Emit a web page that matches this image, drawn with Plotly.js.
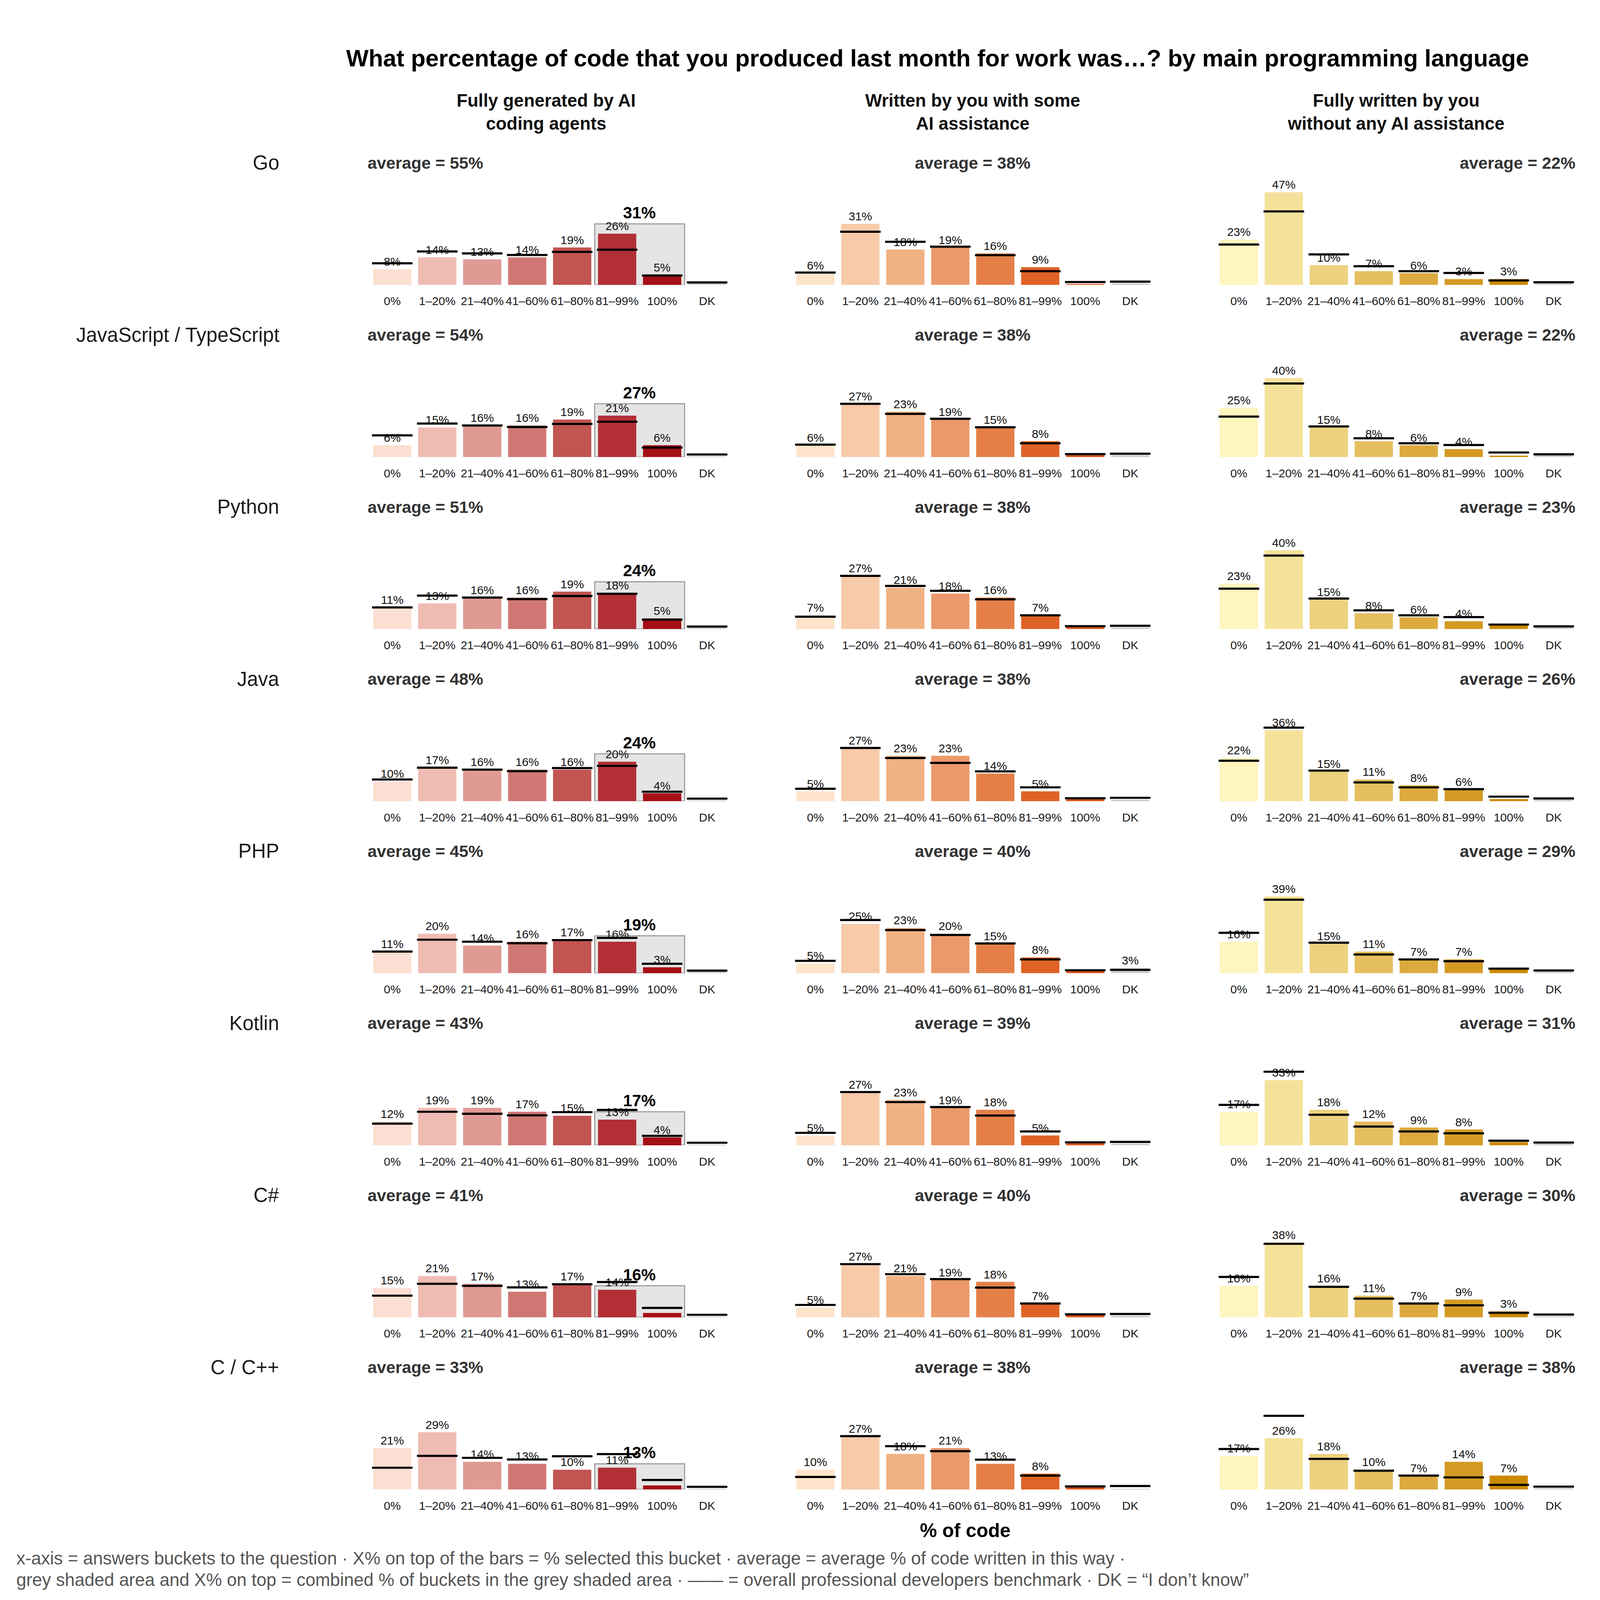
<!DOCTYPE html>
<html>
<head>
<meta charset="utf-8">
<script src="https://cdn.plot.ly/plotly-3.0.1.min.js"></script>
<style>
  html, body { margin: 0; padding: 0; background: #fff; overflow: hidden; }
</style>
</head>
<body>
<div id="chart"></div>
<script>
// answer buckets on every x axis
const categories = ['0%', '1–20%', '21–40%', '41–60%', '61–80%', '81–99%', '100%', 'DK'];
// rows, top to bottom
const languages = ['Go', 'JavaScript / TypeScript', 'Python', 'Java', 'PHP', 'Kotlin', 'C#', 'C / C++'];
const panelTitles = [
  'Fully generated by AI<br>coding agents',
  'Written by you with some<br>AI assistance',
  'Fully written by you<br>without any AI assistance'
];

// % of respondents per bucket, one list per language (column 1)
const agentShares = [
  [8, 14, 13, 14, 19, 26, 5, 0.8],
  [6, 15, 16, 16, 19, 21, 6, 0.4],
  [11, 13, 16, 16, 19, 18.4, 5.4, 0.6],
  [10, 17, 16, 16, 16, 20, 4, 0.4],
  [11, 20, 14, 16, 17, 16, 3, 2],
  [12, 19, 19, 17, 15, 13, 4, 0.4],
  [15, 21, 17, 13, 17, 14, 2.2, 0.4],
  [21, 29, 14, 13, 10, 11, 2, 0.4]
];
// column 2
const assistShares = [
  [6, 31, 18, 19, 16, 9, 0.5, 0.8],
  [6, 27, 23, 19, 15, 8, 1.3, 0.9],
  [7, 27, 21, 18, 16, 7, 1.5, 0.8],
  [5, 27, 23, 23, 14, 5, 1.7, 0.8],
  [5, 25, 23, 20, 15, 8, 1.3, 2.7],
  [5, 27, 23, 19, 18, 5, 1.3, 0.9],
  [5, 27, 21, 19, 18, 7, 1.3, 0.8],
  [10, 27, 18, 21, 13, 8, 1.3, 0.4]
];
// column 3
const noAiShares = [
  [23, 47, 10, 7, 6, 3, 3, 0.8],
  [25, 40, 15, 8, 6, 4, 0.7, 1],
  [23, 40, 15, 8, 6, 4, 2.1, 1],
  [22, 36, 15, 11, 8, 6, 1.1, 0.8],
  [16, 39, 15, 11, 7, 7, 2.2, 1.2],
  [17, 33, 18, 12, 9, 8, 1.6, 1],
  [16, 38, 16, 11, 7, 9, 3, 0.6],
  [17, 26, 18, 10, 7, 14, 7, 0.6]
];

// combined % of 81–99% + 100% (grey shaded area, column 1 only)
const agentCombined = [31, 27, 24, 24, 19, 17, 16, 13];

// average % of code written this way
const agentAverage = [55, 54, 51, 48, 45, 43, 41, 33];
const assistAverage = [38, 38, 38, 38, 40, 39, 40, 38];
const noAiAverage = [22, 22, 23, 26, 29, 31, 30, 38];

// overall professional developers benchmark per column
const agentBenchmark = [11, 17, 16, 15.2, 16.8, 17.9, 4.8, 1.3];
const assistBenchmark = [6.3, 27, 21.9, 19.4, 15.1, 7, 1.5, 1.7];
const noAiBenchmark = [20.5, 37.3, 15.5, 9.5, 7, 6.1, 2.3, 1.4];

const agentColors = ['#fcdfd3', '#efbcb3', '#e09a94', '#d07773', '#c25452', '#b22f36', '#a50f15', '#cccccc'];
const assistColors = ['#fde4cb', '#f7caa9', '#f1b283', '#eb996a', '#e47f48', '#df6326', '#d9541a', '#cccccc'];
const noAiColors = ['#fef5bf', '#f5e29a', '#eed17e', '#e5be5f', '#dcaa3e', '#d49a24', '#cc8a00', '#cccccc'];

function main() {
  // layout is worked out on a 4500 x 4138 grid, then stretched to the window
  const BW = 4500, BH = 4138;
  const W = window.innerWidth || BW, H = window.innerHeight || BH;
  const sx = W / BW, sy = H / BH;
  const s = Math.min(sx, sy);
  const FONT = 'Liberation Sans, Arial, Helvetica, sans-serif';
  const f = px => px * s;   // base px -> screen px (fonts, strokes)

  const columns = [
    { shares: agentShares, avg: agentAverage, bench: agentBenchmark, colors: agentColors },
    { shares: assistShares, avg: assistAverage, bench: assistBenchmark, colors: assistColors },
    { shares: noAiShares, avg: noAiAverage, bench: noAiBenchmark, colors: noAiColors }
  ];

  // panel placement in base pixels
  const colLeft = [1040, 2230, 3421];
  const colWidth = 1012;
  const firstBase = 737;   // baseline of the first row
  const rowStep = 445;
  const panelH = 255;      // 0..50 %

  const data = [];
  const annotations = [];
  const shapes = [];
  const layout = {
    width: W, height: H,
    margin: { l: 0, r: 0, t: 0, b: 0 },
    paper_bgcolor: '#ffffff',
    plot_bgcolor: 'rgba(0,0,0,0)',
    showlegend: false,
    bargap: 0.15,
    font: { family: FONT, color: '#1a1a1a' }
  };

  const label = v => Math.round(v) >= 3 ? Math.round(v) + '%' : '';
  const py = px => 1 - px / BH;   // base pixel y -> paper y
  const note = (text, x, y, size, color, xanchor) => annotations.push({
    xref: 'paper', yref: 'paper', x: x / BW, y: py(y),
    xanchor: xanchor || 'center', yanchor: 'middle', showarrow: false,
    text: text, font: { size: f(size), color: color, family: FONT }
  });

  languages.forEach((lang, r) => {
    const base = firstBase + r * rowStep;

    // language name on the left
    note(lang, 788, base - 316, 56, '#1a1a1a', 'right');

    columns.forEach((col, c) => {
      const k = r * 3 + c + 1;
      const xa = 'x' + k, ya = 'y' + k;
      const vals = col.shares[r];

      // bars
      data.push({
        type: 'bar', x: categories, y: vals, xaxis: xa, yaxis: ya,
        marker: { color: col.colors, line: { width: 0 } },
        text: vals.map(label), textposition: 'outside', textangle: 0,
        constraintext: 'none', cliponaxis: false,
        outsidetextfont: { size: f(33), color: '#111111', family: FONT },
        hoverinfo: 'skip'
      });

      // benchmark dashes on top of the bars (line-ew is 1.4 x size long)
      data.push({
        type: 'scatter', mode: 'markers', x: categories, y: col.bench,
        xaxis: xa, yaxis: ya, cliponaxis: false, hoverinfo: 'skip',
        marker: { symbol: 'line-ew', size: 114 * sx / 1.4, color: '#000', line: { width: f(6), color: '#000' } }
      });

      // invisible ticks push the bucket labels a little below the baseline
      layout['xaxis' + k] = {
        domain: [colLeft[c] / BW, (colLeft[c] + colWidth) / BW],
        anchor: ya, type: 'category', categoryorder: 'array', categoryarray: categories,
        range: [-0.5, categories.length - 0.5], fixedrange: true,
        showgrid: false, zeroline: false, showline: false,
        ticks: 'outside', ticklen: 15 * sy, tickcolor: 'rgba(0,0,0,0)',
        tickangle: 0, automargin: false,
        tickfont: { size: f(33), color: '#1a1a1a', family: FONT }
      };
      layout['yaxis' + k] = {
        domain: [py(base), py(base - panelH)],
        anchor: xa, range: [0, 50], visible: false, fixedrange: true
      };

      // average text above each panel
      const avgX = [colLeft[c] - 8, colLeft[c] + colWidth / 2, colLeft[c] + colWidth][c];
      note('<b>average = ' + col.avg[r] + '%</b>', avgX, base - 316, 47, '#333333', ['left', 'center', 'right'][c]);

      // grey shaded area for the top buckets in column 1
      if (c === 0) {
        const i0 = categories.indexOf('81–99%'), i1 = categories.indexOf('100%');
        shapes.push({
          type: 'rect', xref: xa, yref: ya, layer: 'below',
          x0: i0 - 0.5, x1: i1 + 0.5, y0: 0, y1: agentCombined[r],
          fillcolor: '#e5e5e5', line: { color: '#999999', width: f(3) }
        });
        annotations.push({
          xref: xa, yref: ya, x: (i0 + i1) / 2, y: agentCombined[r],
          xanchor: 'center', yanchor: 'bottom', yshift: 3 * sy, showarrow: false,
          text: '<b>' + agentCombined[r] + '%</b>',
          font: { size: f(46), color: '#000', family: FONT }
        });
      }
    });
  });

  // column headers
  panelTitles.forEach((t, c) => {
    note('<b>' + t + '</b>', colLeft[c] + colWidth / 2 - (c === 0 ? 10 : 0), 290, 50, '#111');
  });

  // main title
  note('<b>What percentage of code that you produced last month for work was…? by main programming language</b>',
       2637, 151, 67, '#000');

  // x axis title under middle column
  note('<b>% of code</b>', 2715, 3958, 54, '#000');

  // footnote, two lines
  note('x-axis = answers buckets to the question · X% on top of the bars = % selected this bucket · average = average % of code written in this way ·',
       44, 4030, 50, '#555555', 'left');
  note('grey shaded area and X% on top = combined % of buckets in the grey shaded area · —— = overall professional developers benchmark · DK = “I don’t know”',
       44, 4086, 50, '#555555', 'left');

  layout.annotations = annotations;
  layout.shapes = shapes;

  const chart = document.getElementById('chart');
  chart.style.width = W + 'px';
  chart.style.height = H + 'px';
  Plotly.newPlot(chart, data, layout, { staticPlot: true, displayModeBar: false });
} // End main

main();
</script>
</body>
</html>
